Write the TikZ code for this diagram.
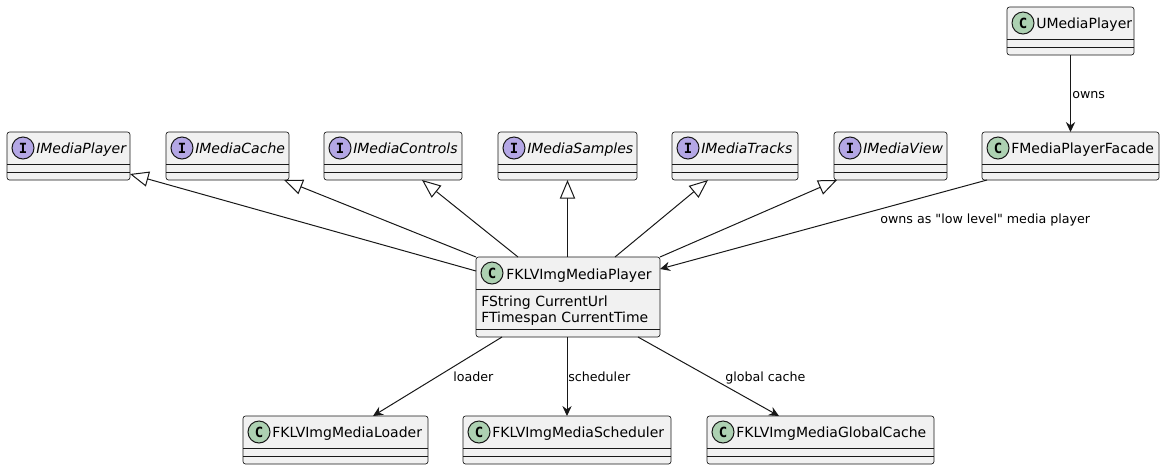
\documentclass[tikz,border=0pt]{standalone}
\usepackage{fontspec}
\setmainfont{DejaVu Sans}[Ligatures=TeXOff]
\newfontfamily\spotfont{DejaVu Sans Mono}
\usepackage{tikz}
\usetikzlibrary{arrows.meta, positioning, calc}
\definecolor{UML_Fill}{HTML}{F1F1F1}
\definecolor{UML_Line}{HTML}{181818}
\definecolor{UML_Class}{HTML}{ADD1B2}
\definecolor{UML_Iface}{HTML}{B4A7E5}

\begin{document}
\begin{tikzpicture}[x=0.75pt, y=-0.75pt, >={Stealth[length=7.5pt, width=7pt, inset=2.5pt]},
    box/.style={draw=UML_Line, fill=UML_Fill, line width=0.5pt, rounded corners=1.9pt,
        inner sep=0pt, outer sep=0pt, anchor=north west, minimum height=36pt},
    sep/.style={draw=UML_Line, line width=0.5pt},
    spot/.style={circle, draw=UML_Line, line width=0.75pt, minimum size=16.5pt, inner sep=0pt,
        font=\spotfont\bfseries\fontsize{10.5}{12}\selectfont},
    cname/.style={inner sep=0pt, anchor=base west, font=\fontsize{10.5}{12}\selectfont},
    iname/.style={cname, font=\itshape\fontsize{10.5}{12}\selectfont},
    lbl/.style={inner sep=0pt, anchor=base west, font=\fontsize{9.5}{11}\selectfont},
    link/.style={draw=UML_Line, line width=0.75pt},
    inherit/.style={link, -{Triangle[length=14pt, width=11.5pt, fill=white]}}]
    \useasboundingbox (0,0) rectangle (1164,469);

    % Interfaces
    \foreach \n/\x/\w/\t in {iplayer/7/123/IMediaPlayer, icache/166/123/IMediaCache,
        icontrols/324/138/IMediaControls, isamples/498/139/IMediaSamples,
        itracks/672/126/IMediaTracks, iview/834/113/IMediaView} {
        \node[box, minimum width=\w*0.75pt] (\n) at (\x,132) {};
        \draw[sep] ($(\n.north west)+(0,32)$) -- ($(\n.north east)+(0,32)$);
        \draw[sep] ($(\n.north west)+(0,40)$) -- ($(\n.north east)+(0,40)$);
        \node[spot, fill=UML_Iface] (\n-spot) at ($(\n.north west)+(16,16)$) {I};
        \node[iname] (\n-name) at ($(\n.north west)+(29,21.5)$) {\t};
    }

    % Plain classes
    \foreach \n/\x/\y/\w/\t in {umedia/1007/7/127/UMediaPlayer, facade/982/132/177/FMediaPlayerFacade,
        loader/243/416/185/FKLVImgMediaLoader, scheduler/463/416/208/FKLVImgMediaScheduler,
        gcache/707/416/227/FKLVImgMediaGlobalCache} {
        \node[box, minimum width=\w*0.75pt] (\n) at (\x,\y) {};
        \draw[sep] ($(\n.north west)+(0,32)$) -- ($(\n.north east)+(0,32)$);
        \draw[sep] ($(\n.north west)+(0,40)$) -- ($(\n.north east)+(0,40)$);
        \node[spot, fill=UML_Class] (\n-spot) at ($(\n.north west)+(16,16)$) {C};
        \node[cname] (\n-name) at ($(\n.north west)+(29,21.5)$) {\t};
    }

    % Player with its fields
    \node[box, minimum width=184*0.75pt, minimum height=60pt] (fklv) at (476,257) {};
    \draw[sep] ($(fklv.north west)+(0,32)$) -- ($(fklv.north east)+(0,32)$);
    \draw[sep] ($(fklv.north west)+(0,72)$) -- ($(fklv.north east)+(0,72)$);
    \node[spot, fill=UML_Class] (fklv-spot) at ($(fklv.north west)+(16,16)$) {C};
    \node[cname] (fklv-name) at ($(fklv.north west)+(30,22)$) {FKLVImgMediaPlayer};
    \node[cname] (fklv-url) at ($(fklv.north west)+(5,49)$) {FString CurrentUrl};
    \node[cname] (fklv-time) at ($(fklv.north west)+(5,65)$) {FTimespan CurrentTime};

    % Realisation
    \draw[inherit] ($(fklv.north west)+(0,14)$) -- ($(iplayer.south east)+(0,-6)$);
    \draw[inherit] (fklv.north west) -- ($(icache.south east)+(-5,0)$);
    \draw[inherit] ($(fklv.north west)+(42,0)$) -- ($(icontrols.south)+(29,0)$);
    \draw[inherit] (isamples.south |- fklv.north) -- (isamples.south);
    \draw[inherit] ($(fklv.north east)+(-45,0)$) -- ($(itracks.south west)+(36,0)$);
    \draw[inherit] (fklv.north east) -- ($(iview.south west)+(3,0)$);

    % Ownership
    \draw[link, ->] (umedia.south) -- (facade.north);
    \draw[link, ->] ($(facade.south west)+(5,0)$) -- ($(fklv.north east)+(0,12)$);
    \draw[link, ->] ($(fklv.south west)+(26,0)$) -- ($(loader.north east)+(-55,0)$);
    \draw[link, ->] (scheduler.north |- fklv.south) -- (scheduler.north);
    \draw[link, ->] ($(fklv.south east)+(-22,0)$) -- ($(gcache.north west)+(72,0)$);

    \node[lbl] (owns) at (1072,98) {owns};
    \node[lbl] (owns-low) at (880,223) {owns as "low level" media player};
    \node[lbl] (l-loader) at (453,381) {loader};
    \node[lbl] (l-sched) at (568,381) {scheduler};
    \node[lbl] (l-gcache) at (725,381) {global cache};
\end{tikzpicture}
\end{document}
